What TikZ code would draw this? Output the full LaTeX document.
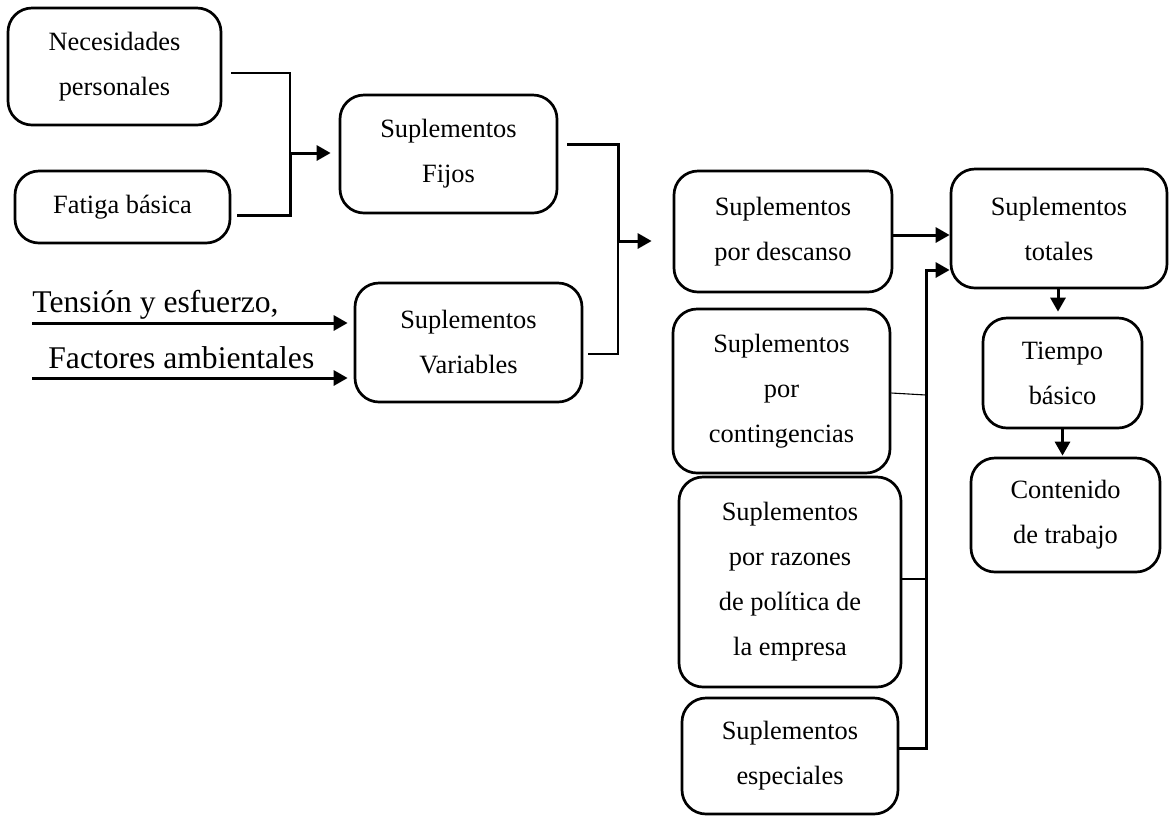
\documentclass[tikz,border=0pt]{standalone}
\usepackage{fontspec}
\setmainfont{Liberation Serif}
\usetikzlibrary{arrows.meta,calc}
\begin{document}
\begin{tikzpicture}[x=0.5pt,y=-0.5pt,
  box/.style={draw, line width=1.35pt, rounded corners=12pt, align=center,
    inner sep=0pt, font=\fontsize{13.2}{22.5}\selectfont},
  sidetext/.style={anchor=base west, inner sep=0pt, font=\fontsize{15.8}{19}\selectfont},
  thickline/.style={line width=1.5pt},
  thinline/.style={line width=0.55pt},
  arr/.style={line width=1.5pt, -{Triangle[length=7pt,width=7.5pt]}}]
\useasboundingbox (0,0) rectangle (1169,816);

% boxes
\node[box, minimum width=106.5pt, minimum height=58.5pt] (nec) at (114.5,66.5) {Necesidades\\personales};
\node[box, minimum width=107.5pt, minimum height=36pt] (fat) at (122.5,207) {Fatiga básica};
\node[box, minimum width=108.5pt, minimum height=59pt] (fij) at (448.5,154) {Suplementos\\Fijos};
\node[box, minimum width=113.5pt, minimum height=59.5pt] (var) at (468.5,342.5) {Suplementos\\Variables};
\node[box, minimum width=109pt, minimum height=60.5pt] (des) at (783,231.5) {Suplementos\\por descanso};
\node[box, minimum width=108.5pt, minimum height=82pt] (con) at (781.5,391) {Suplementos\\por\\contingencias};
\node[box, minimum width=111pt, minimum height=105pt] (raz) at (790,582) {Suplementos\\por razones\\de política de\\la empresa};
\node[box, minimum width=108pt, minimum height=58pt] (esp) at (790,756) {Suplementos\\especiales};
\node[box, minimum width=108pt, minimum height=59.5pt] (tot) at (1059,228.5) {Suplementos\\totales};
\node[box, minimum width=79.5pt, minimum height=55pt] (tie) at (1062.5,373) {Tiempo\\básico};
\node[box, minimum width=94.5pt, minimum height=57pt] (cnt) at (1065.5,515) {Contenido\\de trabajo};

% side inputs
\node[sidetext] (tens) at (32,312) {Tensión y esfuerzo,};
\node[sidetext] (fact) at (48,368) {Factores ambientales};
\coordinate (t1) at (32,323);
\coordinate (t2) at (32,378);
\draw[arr, shorten >=3pt] (t1) -- (var.west |- t1);
\draw[arr, shorten >=3pt] (t2) -- (var.west |- t2);

% fixed allowances
\coordinate (j1) at (290,153);
\draw[thinline] ($(nec.east)+(9,6.5)$) -| (j1);
\draw[thickline] ($(fat.east)+(6,8)$) -| (j1);
\draw[arr, shorten >=4pt] (j1) -- (fij.west |- j1);

% fixed + variable into rest allowances
\coordinate (j2) at (618,241);
\draw[thickline] ($(fij.east)+(9,-10)$) -| (j2);
\draw[thinline] ($(var.east)+(5,11.5)$) -| (j2);
\draw[arr, shorten >=10.5pt] (j2) -- (des.west |- j2);

% into total allowances
\draw[arr] ($(des.east)+(0,3.5)$) -- ($(tot.west)+(0,6.5)$);
\coordinate (b1) at (926,270);
\draw[arr] ($(esp.east)+(0,-8)$) -| (b1) -- (tot.west |- b1);
\draw[thinline] ($(con.east)+(0,2)$) -- (926,395);
\draw[thinline] ($(raz.east)+(0,-3)$) -- (926,579);

% downward chain
\draw[arr, shorten >=2.5pt] (tot.south -| 1058,0) -- (tie.north -| 1058,0);
\draw[arr, shorten >=0.5pt] (tie.south) -- (cnt.north -| tie.south);
\end{tikzpicture}
\end{document}
